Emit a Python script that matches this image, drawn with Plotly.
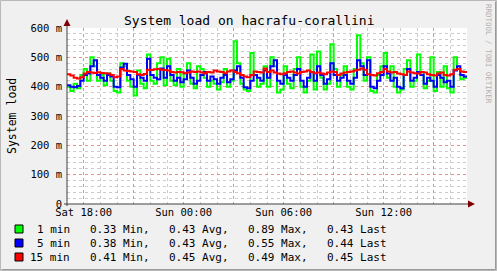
import pandas as pd
import plotly.graph_objects as go

# ---- data (milli-load, 12-minute steps from Sat 17:00) ----
load1 = [400, 385, 410, 395, 440, 460, 420, 500, 470, 420, 440, 405, 445, 420, 385, 380, 480, 470, 420, 400,
         370, 455, 410, 395, 510, 420, 410, 480, 500, 405,
         495, 420, 405, 460, 400, 445, 480, 410, 395, 470, 460, 430, 400, 420, 410, 390, 415, 460, 400, 420,
         555, 480, 410, 390, 385, 515, 440, 400, 410, 470,
         400, 500, 470, 380, 390, 470, 410, 395, 460, 500, 400, 380, 420, 510, 390, 520, 430, 390, 410, 545,
         460, 400, 440, 470, 400, 390, 460, 575, 480, 420,
         500, 385, 380, 440, 470, 515, 430, 470, 400, 380, 390, 460, 490, 400, 420, 510, 450, 395, 420, 500,
         385, 450, 400, 470, 395, 380, 500, 460, 425, 430]
load5 = [405, 400, 398, 402, 420, 440, 445, 470, 490, 440, 430, 420, 440, 435, 400, 398, 465, 478, 440, 425,
         400, 440, 430, 420, 495, 440, 430, 425, 462, 430,
         470, 440, 420, 430, 415, 425, 455, 430, 410, 420, 440, 450, 420, 435, 425, 410, 430, 440, 415, 425,
         455, 470, 430, 398, 395, 420, 440, 430, 420, 455,
         430, 470, 490, 420, 410, 440, 430, 420, 440, 460, 420, 400, 430, 450, 420, 470, 440, 410, 425, 480,
         440, 420, 430, 440, 420, 410, 430, 490, 470, 440,
         490, 400, 395, 420, 440, 470, 445, 420, 430, 400, 395, 440, 460, 420, 430, 450, 440, 410, 430, 420,
         400, 440, 430, 415, 420, 400, 455, 470, 440, 435]
load15 = [442, 438, 430, 428, 432, 445, 450, 448, 447, 449, 447, 446, 445, 440, 432, 435, 460, 455, 453, 452,
          450, 442, 440, 443, 458, 457, 459, 460, 458, 457,
          455, 450, 448, 450, 449, 446, 448, 452, 450, 452, 448, 445, 450, 448, 455, 452, 450, 446, 452, 455,
          450, 446, 440, 435, 432, 440, 452, 450, 448, 462,
          450, 455, 448, 445, 442, 446, 450, 452, 448, 445, 450, 452, 455, 450, 446, 448, 445, 442, 448, 452,
          450, 440, 445, 448, 450, 452, 455, 458, 462, 458,
          442, 440, 438, 446, 450, 460, 452, 448, 450, 445, 442, 440, 452, 448, 446, 445, 450, 448, 442, 440,
          438, 445, 448, 440, 438, 442, 458, 460, 452, 450]

series_names = ["1 min", "5 min", "15 min"]
series_colors = ["#00FF00", "#0000FF", "#FF0000"]
series_stats = [
    ["0.33 Min,", "0.43 Avg,", "0.89 Max,", "0.43 Last"],
    ["0.38 Min,", "0.43 Avg,", "0.55 Max,", "0.44 Last"],
    ["0.41 Min,", "0.45 Avg,", "0.49 Max,", "0.45 Last"],
]
x_tick_labels = ["Sat 18:00", "", "Sun 00:00", "", "Sun 06:00", "", "Sun 12:00", ""]
y_tick_values = [0, 100, 200, 300, 400, 500, 600]
y_tick_labels = ["0", "100 m", "200 m", "300 m", "400 m", "500 m", "600 m"]

start = pd.Timestamp("2024-01-06 17:00")
end = start + pd.Timedelta(hours=24)
times = pd.date_range(start, periods=len(load1) + 1, freq="12min")

W, H = 497, 271
L, R, T, B = 67, 467, 28, 204
FONT = "DejaVu Sans Mono"


def px(x):
    return (x - L) / (R - L)


def py(y):
    return (B - y) / (B - T)


fig = go.Figure()
for vals, name, col in zip([load1, load5, load15], series_names, series_colors):
    fig.add_trace(go.Scatter(x=times, y=list(vals) + [vals[-1]], mode="lines",
                             line=dict(color=col, width=2, shape="hv"),
                             name=name, showlegend=False, hoverinfo="skip"))

tickvals = [start + pd.Timedelta(hours=1 + 3 * i) for i in range(8)]

fig.update_layout(
    width=W, height=H,
    margin=dict(l=L, r=W - R, t=T, b=H - B),
    paper_bgcolor="#F0F0F0", plot_bgcolor="#FFFFFF",
    font=dict(family=FONT, size=10.5, color="#000000"),
    xaxis=dict(range=[start, end], tickmode="array", tickvals=tickvals, ticktext=x_tick_labels,
               showgrid=True, gridcolor="rgba(255,95,95,0.55)", griddash="dot", gridwidth=1,
               minor=dict(tickmode="linear", tick0=start, dtick=3600000, showgrid=True,
                          gridcolor="rgba(170,170,170,0.6)", griddash="dot", gridwidth=1),
               zeroline=False, showline=False, ticks="", tickfont=dict(size=10.5)),
    yaxis=dict(range=[0, 600], tickmode="array", tickvals=y_tick_values, ticktext=y_tick_labels,
               showgrid=True, gridcolor="rgba(255,95,95,0.55)", griddash="dot", gridwidth=1,
               minor=dict(tickmode="linear", tick0=0, dtick=20, showgrid=True,
                          gridcolor="rgba(170,170,170,0.6)", griddash="dot", gridwidth=1),
               zeroline=False, showline=False, ticks="", ticklabelstandoff=4, tickfont=dict(size=10.5)),
)

shapes = []
# frame around image
shapes.append(dict(type="rect", xref="paper", yref="paper", x0=px(0.5), x1=px(W - 0.5), y0=py(H - 0.5), y1=py(0.5),
                   line=dict(color="#B8B8B8", width=1)))
shapes.append(dict(type="line", xref="paper", yref="paper", x0=px(1.5), x1=px(W - 1.5), y0=py(H - 1.5), y1=py(H - 1.5),
                   line=dict(color="#9A9A9A", width=1)))
shapes.append(dict(type="line", xref="paper", yref="paper", x0=px(W - 1.5), x1=px(W - 1.5), y0=py(H - 1.5), y1=py(1.5),
                   line=dict(color="#9A9A9A", width=1)))
# axes
shapes.append(dict(type="line", xref="paper", yref="paper", x0=px(67), x1=px(67), y0=py(206), y1=py(24),
                   line=dict(color="#404040", width=1)))
shapes.append(dict(type="line", xref="paper", yref="paper", x0=px(64), x1=px(470), y0=py(204), y1=py(204),
                   line=dict(color="#404040", width=1)))
# arrows
shapes.append(dict(type="path", xref="paper", yref="paper",
                   path=f"M {px(63.5)} {py(26)} L {px(70.5)} {py(26)} L {px(67)} {py(19)} Z",
                   fillcolor="#7F0000", line=dict(color="#7F0000", width=0)))
shapes.append(dict(type="path", xref="paper", yref="paper",
                   path=f"M {px(468)} {py(200.5)} L {px(468)} {py(207.5)} L {px(475)} {py(204)} Z",
                   fillcolor="#7F0000", line=dict(color="#7F0000", width=0)))

annotations = []
annotations.append(dict(text="System load on hacrafu-corallini", xref="paper", yref="paper",
                        x=px(248.5), y=py(20), xanchor="center", yanchor="middle", showarrow=False,
                        font=dict(family=FONT, size=13, color="#000000")))
annotations.append(dict(text="System load", xref="paper", yref="paper", x=px(12), y=py(116),
                        xanchor="center", yanchor="middle", textangle=-90, showarrow=False,
                        font=dict(family=FONT, size=11.5, color="#000000")))
annotations.append(dict(text="RRDTOOL / TOBI OETIKER", xref="paper", yref="paper", x=px(489), y=py(54),
                        xanchor="center", yanchor="middle", textangle=90, showarrow=False,
                        font=dict(family=FONT, size=7.5, color="#B0B0B0")))

row_y = [229, 243, 257]
col_x = [88, 166.5, 246, 324.5]
for i, (name, col, stats) in enumerate(zip(series_names, series_colors, series_stats)):
    yy = row_y[i]
    shapes.append(dict(type="rect", xref="paper", yref="paper", x0=px(15), x1=px(23), y0=py(yy + 4), y1=py(yy - 4),
                       fillcolor=col, line=dict(color="#000000", width=1)))
    annotations.append(dict(text=name, xref="paper", yref="paper", x=px(72), y=py(yy),
                            xanchor="right", yanchor="middle", showarrow=False,
                            font=dict(family=FONT, size=11, color="#000000")))
    for cx, s in zip(col_x, stats):
        annotations.append(dict(text=s, xref="paper", yref="paper", x=px(cx), y=py(yy),
                                xanchor="left", yanchor="middle", showarrow=False,
                                font=dict(family=FONT, size=11, color="#000000")))

fig.update_layout(shapes=shapes, annotations=annotations)
fig.write_html("out.html")
